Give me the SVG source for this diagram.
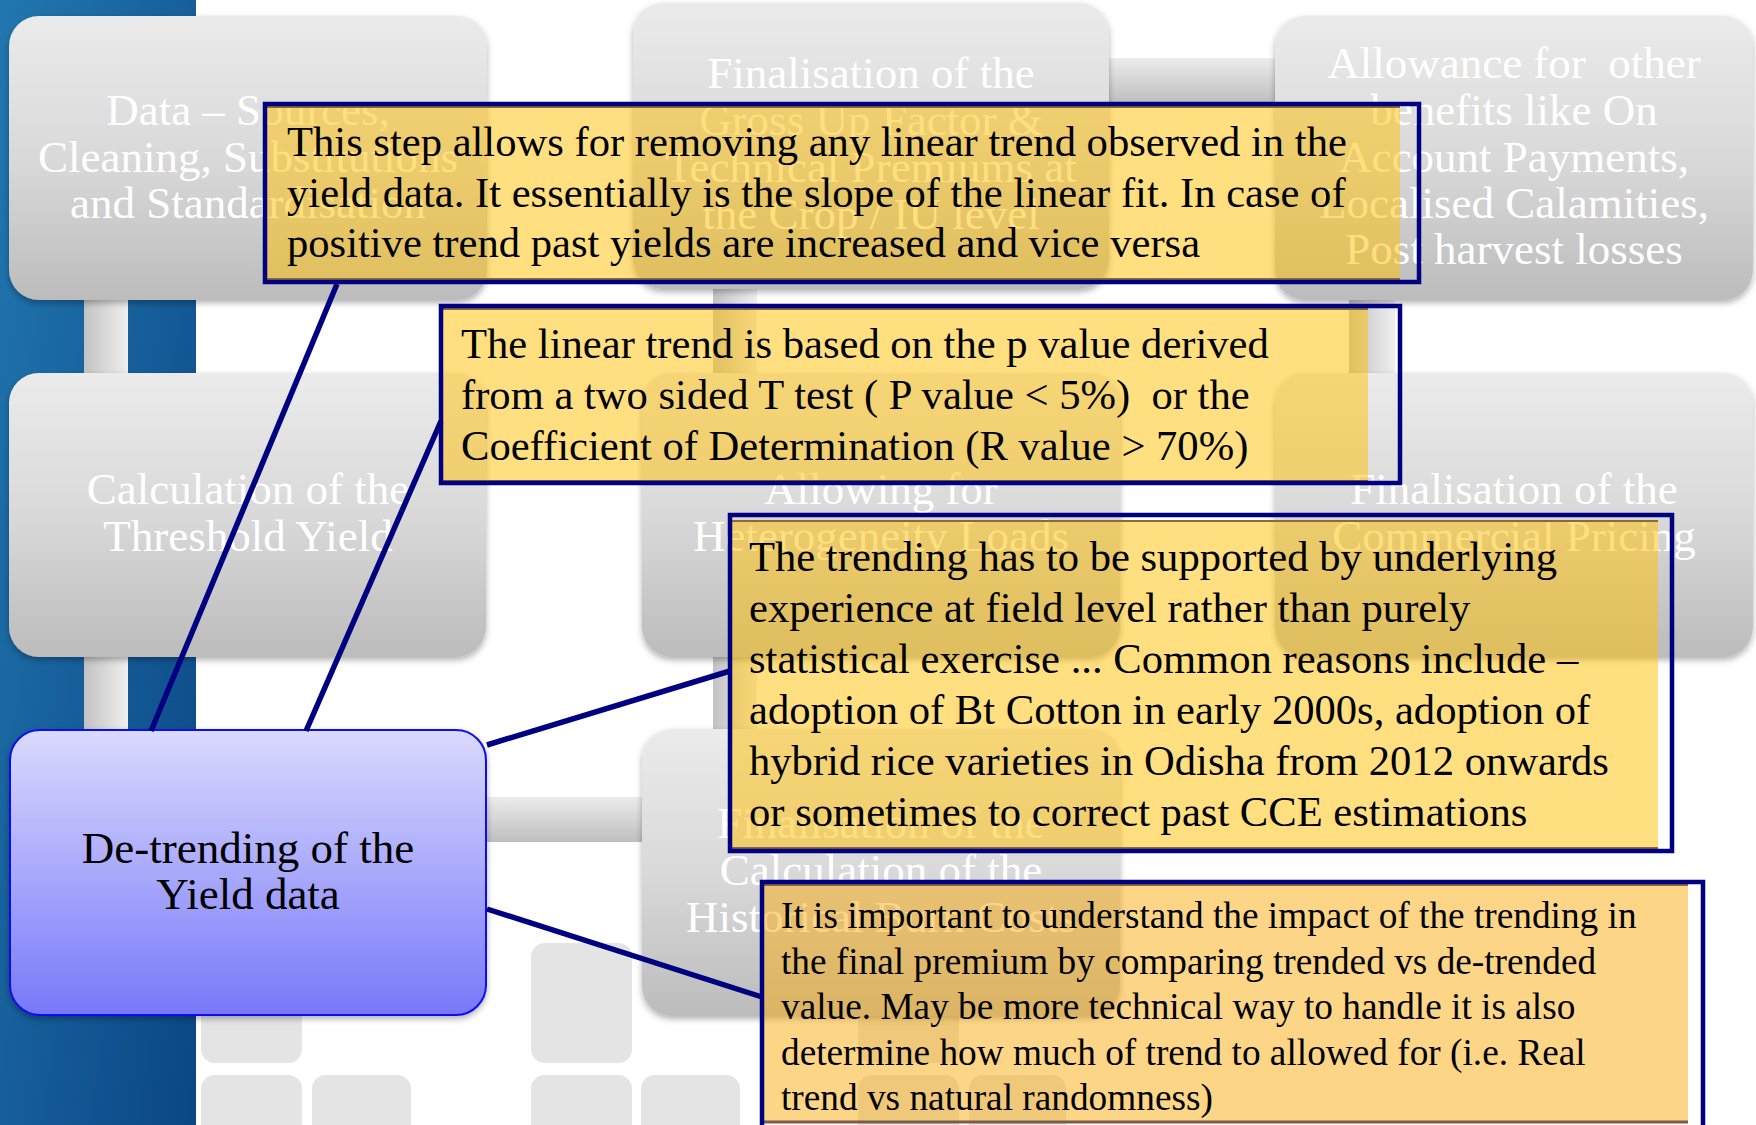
<svg xmlns="http://www.w3.org/2000/svg" width="1756" height="1125" viewBox="0 0 1756 1125">
<defs>
  <linearGradient id="band" x1="0" y1="0" x2="1" y2="1">
    <stop offset="0" stop-color="#2277b0"/>
    <stop offset="1" stop-color="#0a4684"/>
  </linearGradient>
  <linearGradient id="gnode" x1="0" y1="0" x2="0" y2="1">
    <stop offset="0" stop-color="#ebebeb"/>
    <stop offset="0.5" stop-color="#d9d9d9"/>
    <stop offset="1" stop-color="#bcbcbc"/>
  </linearGradient>
  <linearGradient id="bnode" x1="0" y1="0" x2="0" y2="1">
    <stop offset="0" stop-color="#dadafd"/>
    <stop offset="1" stop-color="#7878fa"/>
  </linearGradient>
  <linearGradient id="vbar" x1="0" y1="0" x2="1" y2="0">
    <stop offset="0" stop-color="#c2c2c2"/>
    <stop offset="1" stop-color="#efefef"/>
  </linearGradient>
  <linearGradient id="hbar" x1="0" y1="0" x2="0" y2="1">
    <stop offset="0" stop-color="#ececec"/>
    <stop offset="1" stop-color="#bebebe"/>
  </linearGradient>
  <filter id="sh" x="-5%" y="-5%" width="110%" height="115%">
    <feDropShadow dx="0" dy="3" stdDeviation="3" flood-color="#000" flood-opacity="0.3"/>
  </filter>
</defs>
<style>
  .gn { fill: url(#gnode); filter: url(#sh); }
  .nt { font-family: "Liberation Serif", "Times New Roman", serif; font-size: 45px; fill: #ffffff; text-anchor: middle; }
  .bt { font-family: "Liberation Serif", "Times New Roman", serif; font-size: 45px; fill: #000000; text-anchor: middle; }
  .ct { font-family: "Liberation Serif", "Times New Roman", serif; font-size: 42.6px; fill: #000000; white-space: pre; }
  .ct4 { font-family: "Liberation Serif", "Times New Roman", serif; font-size: 37.3px; fill: #000000; }
  .sq { fill: #e4e4e4; }
  .cb { fill: none; stroke: #000080; stroke-width: 4.5; }
  .cf { fill: #ffc000; fill-opacity: 0.5; }
  .cf4 { fill: #fbab10; fill-opacity: 0.5; }
  .edge { stroke: #8a6a3c; stroke-width: 2; }
  .lk { stroke: #000080; stroke-width: 5.5; fill: none; }
</style>

<rect x="0" y="0" width="1756" height="1125" fill="#ffffff"/>
<rect x="0" y="0" width="196" height="1125" fill="url(#band)"/>

<g id="background-tiles">
  <rect class="sq" x="201" y="943" width="101" height="120" rx="14"/>
  <rect class="sq" x="201" y="1075" width="101" height="110" rx="14"/>
  <rect class="sq" x="312" y="1075" width="99" height="110" rx="14"/>
  <rect class="sq" x="531" y="943" width="101" height="120" rx="14"/>
  <rect class="sq" x="531" y="1075" width="101" height="110" rx="14"/>
  <rect class="sq" x="641" y="1075" width="99" height="110" rx="14"/>
  <rect class="sq" x="858" y="943" width="101" height="120" rx="14"/>
  <rect class="sq" x="858" y="1075" width="101" height="110" rx="14"/>
  <rect class="sq" x="969" y="1075" width="97" height="110" rx="14"/>
</g>

<g id="connectors">
  <g id="flow-bars">
    <rect x="84" y="290" width="44" height="450" fill="url(#vbar)"/>
    <rect x="713" y="280" width="44" height="460" fill="url(#vbar)"/>
    <rect x="1349" y="290" width="46" height="90" fill="url(#vbar)"/>
    <rect x="1100" y="58" width="185" height="45" fill="url(#hbar)"/>
    <rect x="480" y="797" width="170" height="45" fill="url(#hbar)"/>
  </g>
</g>

<g id="node-data">
  <rect class="gn" x="9" y="16" width="478" height="284" rx="30"/>
  <text class="nt"><tspan x="248" y="125">Data – Sources,</tspan><tspan x="248" y="172">Cleaning, Substitutions</tspan><tspan x="248" y="218">and Standardisation</tspan></text>
</g>
<g id="node-grossup">
  <rect class="gn" x="633" y="3" width="476" height="286" rx="30"/>
  <text class="nt"><tspan x="871" y="88">Finalisation of the</tspan><tspan x="871" y="135">Gross Up Factor &amp;</tspan><tspan x="871" y="182">Technical Premiums at</tspan><tspan x="871" y="229">the Crop / IU level</tspan></text>
</g>
<g id="node-allowance">
  <rect class="gn" x="1275" y="16" width="478" height="284" rx="30"/>
  <text class="nt" style="white-space:pre"><tspan x="1514" y="78">Allowance for  other</tspan><tspan x="1514" y="125">benefits like On</tspan><tspan x="1514" y="172">Account Payments,</tspan><tspan x="1514" y="218">Localised Calamities,</tspan><tspan x="1514" y="264">Post harvest losses</tspan></text>
</g>
<g id="node-threshold">
  <rect class="gn" x="9" y="373" width="477" height="284" rx="30"/>
  <text class="nt"><tspan x="248" y="504">Calculation of the</tspan><tspan x="248" y="551">Threshold Yield</tspan></text>
</g>
<g id="node-heterogeneity">
  <rect class="gn" x="642" y="373" width="478" height="284" rx="30"/>
  <text class="nt"><tspan x="881" y="504">Allowing for</tspan><tspan x="881" y="551">Heterogeneity Loads</tspan></text>
</g>
<g id="node-commercial">
  <rect class="gn" x="1275" y="373" width="478" height="284" rx="30"/>
  <text class="nt"><tspan x="1514" y="504">Finalisation of the</tspan><tspan x="1514" y="551">Commercial Pricing</tspan></text>
</g>
<g id="node-burncost">
  <rect class="gn" x="642" y="729" width="478" height="287" rx="30"/>
  <text class="nt"><tspan x="881" y="838">Finalisation of the</tspan><tspan x="881" y="885">Calculation of the</tspan><tspan x="881" y="932">Historical Burn Costs</tspan></text>
</g>
<g id="node-detrending">
  <rect x="10" y="730" width="476" height="285" rx="30" fill="url(#bnode)" stroke="#1010ee" stroke-width="2" filter="url(#sh)"/>
  <text class="bt"><tspan x="248" y="863">De-trending of the</tspan><tspan x="248" y="909">Yield data</tspan></text>
</g>

<g id="callout-slope">
  <rect class="cf" x="266" y="107" width="1134" height="172"/>
  <line class="edge" x1="266" y1="107" x2="1400" y2="107"/>
  <line class="edge" x1="266" y1="279" x2="1400" y2="279"/>
  <rect class="cb" x="265" y="104" width="1154" height="178"/>
  <text class="ct"><tspan x="287" y="156">This step allows for removing any linear trend observed in the</tspan><tspan x="287" y="207">yield data. It essentially is the slope of the linear fit. In case of</tspan><tspan x="287" y="257">positive trend past yields are increased and vice versa</tspan></text>
</g>
<g id="callout-pvalue">
  <rect class="cf" x="443" y="309" width="925" height="172"/>
  <line class="edge" x1="443" y1="309" x2="1368" y2="309"/>
  <line class="edge" x1="443" y1="481" x2="1368" y2="481"/>
  <rect class="cb" x="441" y="306" width="959" height="177"/>
  <text class="ct"><tspan x="461" y="358">The linear trend is based on the p value derived</tspan><tspan x="461" y="409">from a two sided T test ( P value &lt; 5%)  or the</tspan><tspan x="461" y="460">Coefficient of Determination (R value &gt; 70%)</tspan></text>
</g>
<g id="callout-experience">
  <rect class="cf" x="732" y="521" width="926" height="327"/>
  <line class="edge" x1="732" y1="521" x2="1658" y2="521"/>
  <line class="edge" x1="732" y1="848" x2="1658" y2="848"/>
  <rect class="cb" x="730" y="515" width="942" height="336"/>
  <text class="ct"><tspan x="749" y="571">The trending has to be supported by underlying</tspan><tspan x="749" y="622">experience at field level rather than purely</tspan><tspan x="749" y="673">statistical exercise ... Common reasons include –</tspan><tspan x="749" y="724">adoption of Bt Cotton in early 2000s, adoption of</tspan><tspan x="749" y="775">hybrid rice varieties in Odisha from 2012 onwards</tspan><tspan x="749" y="826">or sometimes to correct past CCE estimations</tspan></text>
</g>
<g id="callout-impact">
  <rect class="cf4" x="764" y="885" width="924" height="237"/>
  <line class="edge" x1="764" y1="885" x2="1688" y2="885"/>
  <line x1="764" y1="1122" x2="1688" y2="1122" stroke="#7a5a48" stroke-width="3"/>
  <rect class="cb" x="762" y="882" width="941" height="250"/>
  <text class="ct4"><tspan x="781" y="928">It is important to understand the impact of the trending in</tspan><tspan x="781" y="973.5">the final premium by comparing trended vs de-trended</tspan><tspan x="781" y="1019">value. May be more technical way to handle it is also</tspan><tspan x="781" y="1064.5">determine how much of trend to allowed for (i.e. Real</tspan><tspan x="781" y="1110">trend vs natural randomness)</tspan></text>
</g>

<g id="callout-links">
  <line class="lk" x1="151" y1="731" x2="337" y2="284"/>
  <line class="lk" x1="306" y1="731" x2="441" y2="421"/>
  <line class="lk" x1="487" y1="745" x2="730" y2="671"/>
  <line class="lk" x1="487" y1="909" x2="762" y2="997"/>
</g>
</svg>
